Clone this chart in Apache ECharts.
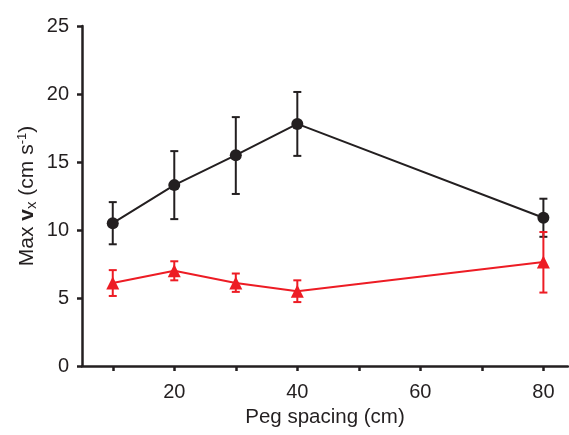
<!DOCTYPE html>
<html>
<head>
<meta charset="utf-8">
<script src="https://cdn.jsdelivr.net/npm/echarts@6/dist/echarts.min.js"></script>
<style>
  html, body { margin: 0; padding: 0; background: #fff; }
  #chart { width: 569px; height: 435px; }
</style>
</head>
<body>
<div id="chart"></div>
<script>
// peg spacing (cm)
var spacing = [10, 20, 30, 40, 80];

// black circles
var blackMean = [10.5, 13.3, 15.5, 17.8, 10.9];
var blackLow  = [8.95, 10.8, 12.65, 15.45, 9.5];
var blackHigh = [12.05, 15.8, 18.3, 20.15, 12.3];

// red triangles
var redMean = [6.1, 7.0, 6.1, 5.5, 7.65];
var redLow  = [5.15, 6.3, 5.45, 4.7, 5.4];
var redHigh = [7.05, 7.7, 6.8, 6.3, 9.85];

var xTicks = [10, 20, 30, 40, 50, 60, 70, 80];
var xLabels = [20, 40, 60, 80];

var BLACK = '#231f20';
var RED = '#ed1c24';
var FONT = 'Liberation Sans';

function pairs(xs, ys) {
  return xs.map(function (x, i) { return [x, ys[i]]; });
}
function errData(xs, lo, hi) {
  return xs.map(function (x, i) { return [x, lo[i], hi[i]]; });
}

function errorBars(color) {
  return function (params, api) {
    var top = api.coord([api.value(0), api.value(2)]);
    var bot = api.coord([api.value(0), api.value(1)]);
    var cap = 4;
    var style = { stroke: color, lineWidth: 2 };
    return {
      type: 'group',
      children: [
        { type: 'line', shape: { x1: top[0], y1: top[1], x2: bot[0], y2: bot[1] }, style: style },
        { type: 'line', shape: { x1: top[0] - cap, y1: top[1], x2: top[0] + cap, y2: top[1] }, style: style },
        { type: 'line', shape: { x1: bot[0] - cap, y1: bot[1], x2: bot[0] + cap, y2: bot[1] }, style: style }
      ]
    };
  };
}

var chart = echarts.init(document.getElementById('chart'));

var option = {
  animation: false,
  grid: { left: 82, right: 1, top: 26, bottom: 69, containLabel: false },
  xAxis: {
    type: 'value',
    min: 5,
    max: 84,
    splitLine: { show: false },
    axisLine: { lineStyle: { color: BLACK, width: 2.5 } },
    axisTick: { customValues: xTicks, length: 5, lineStyle: { color: BLACK, width: 2.5 } },
    axisLabel: { customValues: xLabels, color: BLACK, fontSize: 20, fontFamily: FONT, margin: 16 },
    name: 'Peg spacing (cm)',
    nameLocation: 'middle',
    nameGap: 41,
    nameTextStyle: { color: BLACK, fontSize: 20.5, fontFamily: FONT }
  },
  yAxis: {
    type: 'value',
    min: 0,
    max: 25,
    interval: 5,
    splitLine: { show: false },
    axisLine: { show: true, lineStyle: { color: BLACK, width: 2.5 } },
    axisTick: { show: true, length: 5, lineStyle: { color: BLACK, width: 2.5 } },
    axisLabel: { color: BLACK, fontSize: 20, fontFamily: FONT, margin: 13 },
    name: 'Max {b|v}{sub|x} (cm s{sup|-1})',
    nameLocation: 'middle',
    nameRotate: 90,
    nameGap: 43,
    nameMoveOverlap: false,
    nameTextStyle: {
      color: BLACK, fontSize: 21, fontFamily: FONT,
      rich: {
        b: { fontSize: 21, fontWeight: 'bold', fontFamily: FONT, color: BLACK },
        sub: { fontSize: 15, fontFamily: FONT, color: BLACK, padding: [9, 0, 0, 0] },
        sup: { fontSize: 13, fontFamily: FONT, color: BLACK, padding: [0, 0, 9, 0] }
      }
    }
  },
  series: [
    {
      type: 'custom',
      renderItem: errorBars(BLACK),
      data: errData(spacing, blackLow, blackHigh),
      encode: { x: 0, y: [1, 2] },
      z: 1
    },
    {
      type: 'line',
      data: pairs(spacing, blackMean),
      symbol: 'circle',
      symbolSize: 12,
      lineStyle: { color: BLACK, width: 2 },
      itemStyle: { color: BLACK },
      z: 2
    },
    {
      type: 'custom',
      renderItem: errorBars(RED),
      data: errData(spacing, redLow, redHigh),
      encode: { x: 0, y: [1, 2] },
      z: 1
    },
    {
      type: 'line',
      data: pairs(spacing, redMean),
      symbol: 'triangle',
      symbolSize: 13,
      lineStyle: { color: RED, width: 2 },
      itemStyle: { color: RED },
      z: 2
    }
  ]
};

chart.setOption(option);
</script>
</body>
</html>
